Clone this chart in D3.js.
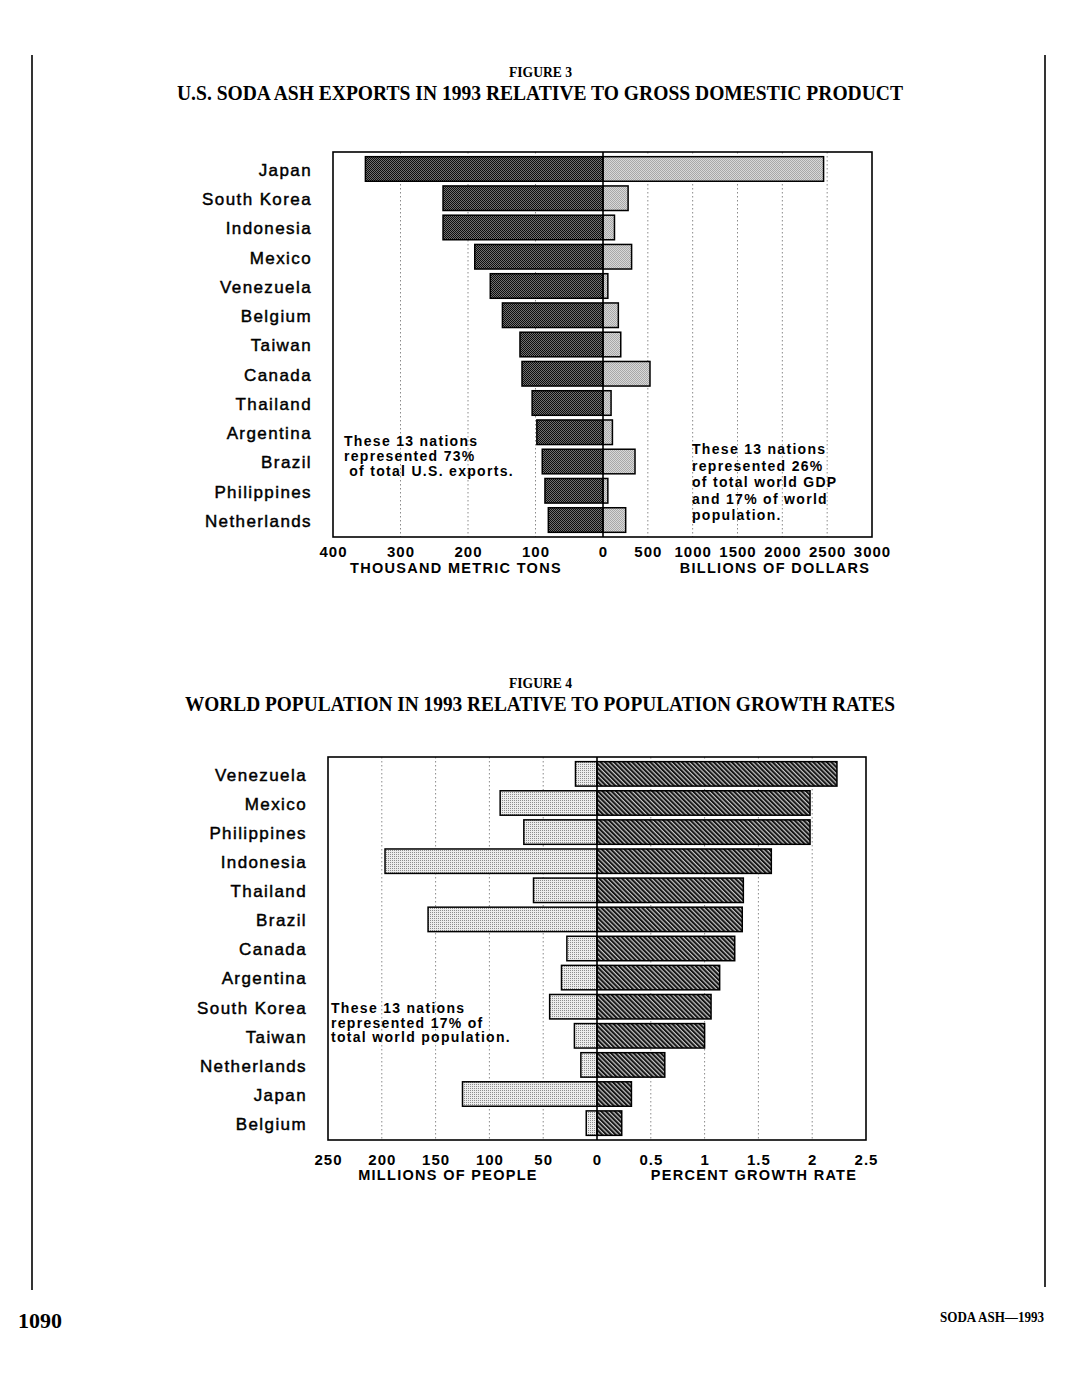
<!DOCTYPE html>
<html>
<head>
<meta charset="utf-8">
<script src="https://cdn.jsdelivr.net/npm/d3@7"></script>
<style>
  html, body { margin: 0; padding: 0; background: #fff; }
  svg { display: block; }
  .serif { font-family: "Liberation Serif", "Times New Roman", serif; font-weight: bold; }
  .sans { font-family: "Liberation Sans", Arial, Helvetica, sans-serif; }
</style>
</head>
<body>
<script>
// ---------------- DATA ----------------
const fig3Countries = ["Japan","South Korea","Indonesia","Mexico","Venezuela","Belgium","Taiwan","Canada","Thailand","Argentina","Brazil","Philippines","Netherlands"];
const fig3Exports = [352, 237, 237, 190, 167, 149, 123, 120, 105, 98, 90, 86, 81];          // thousand metric tons
const fig3GDP = [2460, 280, 128, 319, 54, 171, 198, 524, 90, 105, 357, 54, 253];             // billions of dollars
const fig3LeftTicks = [400, 300, 200, 100, 0];
const fig3RightTicks = [500, 1000, 1500, 2000, 2500, 3000];
const fig3LeftGrid = [300, 200, 100];
const fig3RightGrid = [500, 1000, 1500, 2000, 2500];
const fig3LeftNote = ["These 13 nations", "represented 73%", " of total U.S. exports."];
const fig3RightNote = ["These 13 nations", "represented 26%", "of total world GDP", "and 17% of world", "population."];

const fig4Countries = ["Venezuela","Mexico","Philippines","Indonesia","Thailand","Brazil","Canada","Argentina","South Korea","Taiwan","Netherlands","Japan","Belgium"];
const fig4Population = [20, 90, 68, 197, 59, 157, 28, 33, 44, 21, 15, 125, 10];             // millions of people
const fig4Growth = [2.23, 1.98, 1.98, 1.62, 1.36, 1.35, 1.28, 1.14, 1.06, 1.00, 0.63, 0.32, 0.23]; // percent
const fig4LeftTicks = [250, 200, 150, 100, 50, 0];
const fig4RightTicks = [0.5, 1, 1.5, 2, 2.5];
const fig4LeftGrid = [200, 150, 100, 50];
const fig4RightGrid = [0.5, 1, 1.5, 2];
const fig4Note = ["These 13 nations", "represented 17% of", "total world population."];

// ---------------- SVG ----------------
const W = 1078, H = 1380;
const svg = d3.select("body").append("svg").attr("width", W).attr("height", H);
const defs = svg.append("defs");

function checker(id, a, b) {
  const p = defs.append("pattern").attr("id", id).attr("patternUnits", "userSpaceOnUse")
    .attr("width", 2).attr("height", 2);
  p.append("rect").attr("width", 2).attr("height", 2).attr("fill", b);
  p.append("rect").attr("x", 0).attr("y", 0).attr("width", 1).attr("height", 1).attr("fill", a);
  p.append("rect").attr("x", 1).attr("y", 1).attr("width", 1).attr("height", 1).attr("fill", a);
}
checker("darkDots", "#0d0d0d", "#707070");
checker("greyDots", "#a8a8a8", "#d8d8d8");
(function () {
  const p = defs.append("pattern").attr("id", "lightDots").attr("patternUnits", "userSpaceOnUse")
    .attr("width", 2).attr("height", 2);
  p.append("rect").attr("width", 2).attr("height", 2).attr("fill", "#ececec");
  p.append("rect").attr("x", 0).attr("y", 0).attr("width", 1).attr("height", 1).attr("fill", "#8c8c8c");
})();
(function () {
  const p = defs.append("pattern").attr("id", "hatch").attr("patternUnits", "userSpaceOnUse")
    .attr("width", 3.2).attr("height", 3.2).attr("patternTransform", "rotate(-45)");
  p.append("rect").attr("width", 3.2).attr("height", 3.2).attr("fill", "#c8c8c8");
  p.append("rect").attr("x", 0).attr("y", 0).attr("width", 2.0).attr("height", 3.2).attr("fill", "#161616");
})();

// page frame lines
svg.append("line").attr("x1", 32).attr("x2", 32).attr("y1", 55).attr("y2", 1290).attr("stroke", "#000").attr("stroke-width", 1.6);
svg.append("line").attr("x1", 1045).attr("x2", 1045).attr("y1", 55).attr("y2", 1287).attr("stroke", "#000").attr("stroke-width", 1.6);

// footer
svg.append("text").attr("class", "serif").attr("x", 18).attr("y", 1328).attr("font-size", 20)
  .attr("textLength", 44).attr("lengthAdjust", "spacingAndGlyphs").text("1090");
svg.append("text").attr("class", "serif").attr("x", 940).attr("y", 1322).attr("font-size", 14)
  .attr("textLength", 104).attr("lengthAdjust", "spacingAndGlyphs").text("SODA ASH\u20141993");

function drawFigure(cfg) {
  const g = svg.append("g");
  // titles
  g.append("text").attr("class", "serif").attr("x", cfg.figX).attr("y", cfg.figY).attr("font-size", 14)
    .attr("textLength", 63).attr("lengthAdjust", "spacingAndGlyphs").text(cfg.figLabel);
  g.append("text").attr("class", "serif").attr("x", cfg.titleX).attr("y", cfg.titleY).attr("font-size", 22)
    .attr("textLength", cfg.titleW).attr("lengthAdjust", "spacingAndGlyphs").text(cfg.title);

  const xL = d3.scaleLinear().domain([cfg.leftTicks[0], 0]).range([cfg.x0, cfg.zero]);
  const xR = d3.scaleLinear().domain([0, cfg.rightMax]).range([cfg.zero, cfg.x1]);
  const y = d3.scaleBand().domain(cfg.countries).range([cfg.y0, cfg.y1]).padding(0.16);

  // gridlines
  const gridStyle = s => s.attr("stroke", "#8a8a8a").attr("stroke-width", 1).attr("stroke-dasharray", "1.5,2.5");
  g.selectAll(".gl").data(cfg.leftGrid).join("line")
    .attr("x1", d => xL(d)).attr("x2", d => xL(d)).attr("y1", cfg.y0).attr("y2", cfg.y1).call(gridStyle);
  g.selectAll(".gr").data(cfg.rightGrid).join("line")
    .attr("x1", d => xR(d)).attr("x2", d => xR(d)).attr("y1", cfg.y0).attr("y2", cfg.y1).call(gridStyle);

  // notes
  cfg.notes.forEach(n => {
    const t = g.append("text").attr("class", "sans").attr("font-size", 14).attr("font-weight", "bold")
      .attr("letter-spacing", n.ls).attr("xml:space", "preserve");
    n.lines.forEach((line, i) => {
      t.append("tspan").attr("x", n.x).attr("y", n.y + i * n.dy).text(line);
    });
  });

  const rows = cfg.countries.map((c, i) => ({ c, l: cfg.left[i], r: cfg.right[i] }));
  g.selectAll(".bl").data(rows).join("rect")
    .attr("x", d => xL(d.l)).attr("y", d => y(d.c))
    .attr("width", d => cfg.zero - xL(d.l)).attr("height", y.bandwidth())
    .attr("fill", `url(#${cfg.leftFill})`).attr("stroke", "#000").attr("stroke-width", 1.5);
  g.selectAll(".br").data(rows).join("rect")
    .attr("x", cfg.zero).attr("y", d => y(d.c))
    .attr("width", d => xR(d.r) - cfg.zero).attr("height", y.bandwidth())
    .attr("fill", `url(#${cfg.rightFill})`).attr("stroke", "#000").attr("stroke-width", 1.5);

  // frame and zero line
  g.append("rect").attr("x", cfg.x0).attr("y", cfg.y0).attr("width", cfg.x1 - cfg.x0).attr("height", cfg.y1 - cfg.y0)
    .attr("fill", "none").attr("stroke", "#000").attr("stroke-width", 1.6);
  g.append("line").attr("x1", cfg.zero).attr("x2", cfg.zero).attr("y1", cfg.y0).attr("y2", cfg.y1)
    .attr("stroke", "#000").attr("stroke-width", 1.6);

  // country labels
  g.selectAll(".lab").data(cfg.countries).join("text").attr("class", "sans")
    .attr("x", cfg.labelX).attr("y", d => y(d) + y.bandwidth() / 2).attr("dy", "0.4em")
    .attr("text-anchor", "end").attr("font-size", 17).attr("letter-spacing", 1.4)
    .attr("fill", "#000").attr("stroke", "#000").attr("stroke-width", 0.45)
    .text(d => d);

  // axes (tick labels only)
  const styleAxis = a => {
    a.select(".domain").remove();
    a.selectAll("line").remove();
    a.selectAll("text").attr("class", "sans").attr("font-size", 15).attr("font-weight", "bold")
      .attr("letter-spacing", 1.0).attr("fill", "#000").attr("y", 0).attr("dy", 0);
  };
  g.append("g").attr("transform", `translate(0,${cfg.tickY})`)
    .call(d3.axisBottom(xL).tickValues(cfg.leftTicks).tickSize(0).tickFormat(d3.format("")))
    .call(styleAxis);
  g.append("g").attr("transform", `translate(0,${cfg.tickY})`)
    .call(d3.axisBottom(xR).tickValues(cfg.rightTicks).tickSize(0).tickFormat(d => String(d)))
    .call(styleAxis);
  g.selectAll("g text").attr("font-family", null);

  // axis titles
  cfg.axisTitles.forEach(a => {
    g.append("text").attr("class", "sans").attr("x", a.x).attr("y", cfg.axisTitleY)
      .attr("text-anchor", "middle").attr("font-size", 14.5).attr("font-weight", "bold")
      .attr("letter-spacing", 1.3).text(a.text);
  });
}

drawFigure({
  figLabel: "FIGURE 3", figX: 509, figY: 77,
  title: "U.S. SODA ASH EXPORTS IN 1993 RELATIVE TO GROSS DOMESTIC PRODUCT", titleX: 177, titleY: 100, titleW: 726,
  countries: fig3Countries, left: fig3Exports, right: fig3GDP,
  leftTicks: fig3LeftTicks, rightTicks: fig3RightTicks, rightMax: 3000,
  leftGrid: fig3LeftGrid, rightGrid: fig3RightGrid,
  x0: 333, zero: 603, x1: 872, y0: 152, y1: 537,
  leftFill: "darkDots", rightFill: "greyDots",
  labelX: 312, tickY: 557, axisTitleY: 573,
  axisTitles: [{ x: 456, text: "THOUSAND METRIC TONS" }, { x: 775, text: "BILLIONS OF DOLLARS" }],
  notes: [
    { x: 344, y: 446, dy: 15, ls: 1.3, lines: fig3LeftNote },
    { x: 692, y: 454, dy: 16.6, ls: 1.3, lines: fig3RightNote }
  ]
});

drawFigure({
  figLabel: "FIGURE 4", figX: 509, figY: 688,
  title: "WORLD POPULATION IN 1993 RELATIVE TO POPULATION GROWTH RATES", titleX: 185, titleY: 711, titleW: 710,
  countries: fig4Countries, left: fig4Population, right: fig4Growth,
  leftTicks: fig4LeftTicks, rightTicks: fig4RightTicks, rightMax: 2.5,
  leftGrid: fig4LeftGrid, rightGrid: fig4RightGrid,
  x0: 328, zero: 597, x1: 866, y0: 757, y1: 1140,
  leftFill: "lightDots", rightFill: "hatch",
  labelX: 307, tickY: 1165, axisTitleY: 1180,
  axisTitles: [{ x: 448, text: "MILLIONS OF PEOPLE" }, { x: 754, text: "PERCENT GROWTH RATE" }],
  notes: [
    { x: 331, y: 1013, dy: 14.5, ls: 1.3, lines: fig4Note }
  ]
});
</script>
</body>
</html>
